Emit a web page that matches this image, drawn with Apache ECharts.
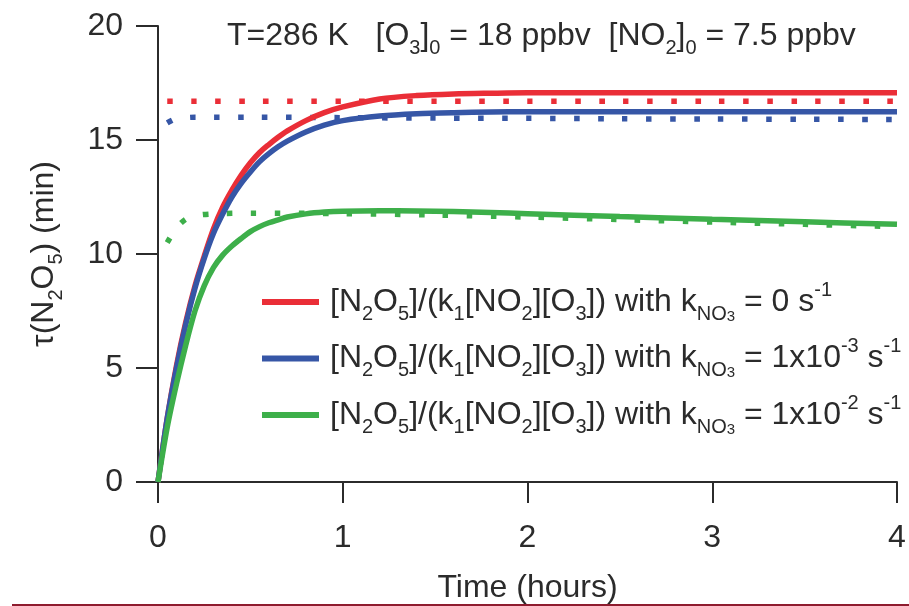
<!DOCTYPE html>
<html>
<head>
<meta charset="utf-8">
<script src="https://cdn.jsdelivr.net/npm/echarts@6/dist/echarts.min.js"></script>
<style>html,body{margin:0;padding:0;background:#fff}#c{width:909px;height:606px}</style>
</head>
<body>
<div id="c"></div>
<script>
// ---- data ----
const timeSolid = [0, 0.05, 0.1, 0.15, 0.2, 0.25, 0.3, 0.35, 0.4, 0.45, 0.5, 0.55, 0.6, 0.65, 0.7, 0.8, 0.9, 1.0, 1.2, 1.4, 1.6, 1.8, 2.0, 2.5, 3.0, 3.5, 4.0];
const redSolid   = [0, 2.8, 5.1, 7.0, 8.6, 9.9, 11.1, 12.05, 12.8, 13.45, 14.0, 14.45, 14.8, 15.12, 15.4, 15.85, 16.2, 16.45, 16.8, 16.95, 17.02, 17.05, 17.07, 17.07, 17.07, 17.07, 17.07];
const blueSolid  = [0, 2.8, 5.0, 6.9, 8.5, 9.8, 10.9, 11.75, 12.5, 13.1, 13.6, 14.05, 14.4, 14.7, 14.95, 15.35, 15.65, 15.85, 16.05, 16.15, 16.2, 16.23, 16.24, 16.24, 16.24, 16.24, 16.24];
const greenSolid = [0, 2.4, 4.3, 6.0, 7.5, 8.6, 9.4, 9.95, 10.35, 10.68, 10.98, 11.2, 11.37, 11.5, 11.62, 11.76, 11.84, 11.88, 11.9, 11.89, 11.86, 11.82, 11.77, 11.64, 11.52, 11.41, 11.3];

const timeDotted  = [0.05, 0.1, 0.15, 0.2, 0.3, 0.5, 1.0, 1.5, 2.0, 2.5, 3.0, 3.5, 4.0];
const redDotted   = [16.7, 16.7, 16.7, 16.7, 16.7, 16.7, 16.7, 16.7, 16.7, 16.7, 16.7, 16.7, 16.7];
const blueDotted  = [15.75, 15.95, 15.98, 16.0, 16.0, 16.0, 15.98, 15.96, 15.95, 15.93, 15.92, 15.91, 15.9];
const greenDotted = [10.5, 11.15, 11.52, 11.68, 11.76, 11.79, 11.77, 11.71, 11.62, 11.51, 11.4, 11.3, 11.2];

const xTicks = [0, 1, 2, 3, 4];
const yTicks = [0, 5, 10, 15, 20];

const seriesNames = ['k0', 'k3', 'k2'];
const legendLabels = {
  k0: '[N{sub|2}O{sub|5}]/(k{sub|1}[NO{sub|2}][O{sub|3}]) with k{sub|NO}{subsub|3} = 0 s{sup|-1}',
  k3: '[N{sub|2}O{sub|5}]/(k{sub|1}[NO{sub|2}][O{sub|3}]) with k{sub|NO}{subsub|3} = 1x10{sup|-3} s{sup|-1}',
  k2: '[N{sub|2}O{sub|5}]/(k{sub|1}[NO{sub|2}][O{sub|3}]) with k{sub|NO}{subsub|3} = 1x10{sup|-2} s{sup|-1}'
};
const titleText = 'T=286 K   [O{sub|3}]{sub|0} = 18 ppbv  [NO{sub|2}]{sub|0} = 7.5 ppbv';
const yName = 'τ(N{sub|2}O{sub|5}) (min)';
const xName = 'Time (hours)';

// ---- styles ----
const FONT = "'Liberation Sans', Arial, Helvetica, sans-serif";
const TXT = '#2b2b2b';
const FS = 32;
const rich = {
  sub:    { fontSize: 20, lineHeight: 24, verticalAlign: 'bottom', fontFamily: FONT, color: TXT },
  subsub: { fontSize: 15, lineHeight: 14, verticalAlign: 'bottom', fontFamily: FONT, color: TXT },
  sup:    { fontSize: 20, lineHeight: 24, verticalAlign: 'top', fontFamily: FONT, color: TXT }
};
const COLORS = { red: '#ea2e37', blue: '#3656a6', green: '#3daf4a' };

function pairs(xs, ys) { return xs.map((x, i) => [x, ys[i]]); }

const solidStyle = (c) => ({ color: c, width: 5.5, cap: 'butt' });
const dotStyle = (c) => ({ color: c, width: 5.5, type: [5.5, 18.5], cap: 'butt' });

const chart = echarts.init(document.getElementById('c'), null, { renderer: 'canvas' });
chart.setOption({
  animation: false,
  backgroundColor: '#fff',
  title: {
    text: titleText,
    left: 222, top: 9,
    textStyle: { fontSize: FS, fontWeight: 'normal', color: TXT, fontFamily: FONT, lineHeight: 44, rich: rich }
  },
  grid: { left: 158, right: 12, top: 26, bottom: 124, containLabel: false, outerBoundsMode: 'none' },
  legend: {
    data: seriesNames,
    orient: 'vertical',
    left: 262, top: 280, padding: 0,
    itemWidth: 57, itemHeight: 6, itemGap: 12.5,
    icon: 'rect',
    formatter: (n) => legendLabels[n],
    textStyle: { fontSize: FS, color: TXT, fontFamily: FONT, lineHeight: 44, padding: [0, 0, 0, 6], rich: rich }
  },
  xAxis: {
    type: 'value', min: xTicks[0], max: xTicks[xTicks.length - 1], interval: 1,
    name: xName, nameLocation: 'middle', nameGap: 86,
    nameTextStyle: { fontSize: FS, color: TXT, fontFamily: FONT, lineHeight: 40 },
    axisLine: { lineStyle: { color: '#2b2b2b', width: 2 } },
    axisTick: { length: 21, lineStyle: { color: '#2b2b2b', width: 2 } },
    axisLabel: { fontSize: FS, color: TXT, fontFamily: FONT, margin: 38, lineHeight: 36 },
    splitLine: { show: false }
  },
  yAxis: {
    type: 'value', min: yTicks[0], max: yTicks[yTicks.length - 1], interval: 5,
    name: yName, nameLocation: 'middle', nameGap: 92, nameRotate: 90,
    nameTextStyle: { fontSize: FS, color: TXT, fontFamily: FONT, lineHeight: 44, rich: rich },
    axisLine: { lineStyle: { color: '#2b2b2b', width: 2 } },
    axisTick: { length: 22, lineStyle: { color: '#2b2b2b', width: 2 } },
    axisLabel: { fontSize: FS, color: TXT, fontFamily: FONT, margin: 35 },
    splitLine: { show: false }
  },
  graphic: [{
    type: 'line', silent: true,
    shape: { x1: 12, y1: 605, x2: 909, y2: 605 },
    style: { stroke: '#8e1b2e', lineWidth: 2 }
  }],
  series: [
    { name: 'k0dot', type: 'line', data: pairs(timeDotted, redDotted), showSymbol: false, smooth: 0.3, lineStyle: dotStyle(COLORS.red), z: 2 },
    { name: 'k3dot', type: 'line', data: pairs(timeDotted, blueDotted), showSymbol: false, smooth: 0.3, lineStyle: dotStyle(COLORS.blue), z: 2 },
    { name: 'k2dot', type: 'line', data: pairs(timeDotted, greenDotted), showSymbol: false, smooth: 0.3, lineStyle: dotStyle(COLORS.green), z: 2 },
    { name: 'k0', type: 'line', color: COLORS.red, data: pairs(timeSolid, redSolid), showSymbol: false, smooth: 0.3, lineStyle: solidStyle(COLORS.red), z: 3 },
    { name: 'k3', type: 'line', color: COLORS.blue, data: pairs(timeSolid, blueSolid), showSymbol: false, smooth: 0.3, lineStyle: solidStyle(COLORS.blue), z: 3 },
    { name: 'k2', type: 'line', color: COLORS.green, data: pairs(timeSolid, greenSolid), showSymbol: false, smooth: 0.3, lineStyle: solidStyle(COLORS.green), z: 3 }
  ]
});
</script>
</body>
</html>
